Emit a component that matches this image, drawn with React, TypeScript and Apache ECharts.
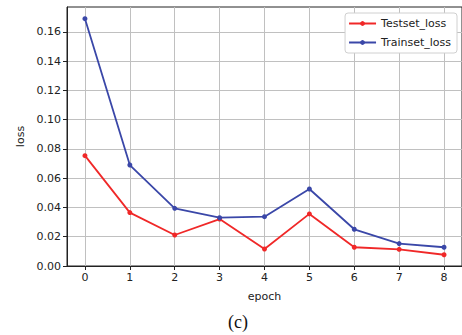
import React, { useEffect, useRef } from "react";
import * as echarts from "echarts";

const epochs = [0, 1, 2, 3, 4, 5, 6, 7, 8];
const testsetLoss = [0.0754, 0.0365, 0.0212, 0.0321, 0.0116, 0.0356, 0.0128, 0.0114, 0.0077];
const trainsetLoss = [0.169, 0.069, 0.0394, 0.033, 0.0337, 0.0526, 0.0251, 0.0153, 0.0128];
const yTicks = [0, 0.02, 0.04, 0.06, 0.08, 0.1, 0.12, 0.14, 0.16];
const xTicks = [0, 1, 2, 3, 4, 5, 6, 7, 8];

export default function App() {
  const ref = useRef<HTMLDivElement>(null);
  useEffect(() => {
    document.body.style.margin = "0";
    const chart = echarts.init(ref.current!, null, { renderer: "svg" });
    const font = "DejaVu Sans";
    chart.setOption({
      animation: false,
      backgroundColor: "#ffffff",
      textStyle: { fontFamily: font },
      grid: {
        left: 67,
        right: -2,
        top: 7,
        bottom: 69,
        show: true,
        borderColor: "#222",
        borderWidth: 1,
        backgroundColor: "transparent",
      },
      legend: {
        orient: "vertical",
        right: 5,
        top: 13,
        itemWidth: 27,
        itemHeight: 6,
        itemGap: 8,
        padding: [5, 6, 5, 3],
        backgroundColor: "#fff",
        borderColor: "#d0d0d0",
        borderWidth: 1,
        borderRadius: 3,
        textStyle: { fontFamily: font, fontSize: 11, color: "#222" },
        data: ["Testset_loss", "Trainset_loss"],
      },
      xAxis: {
        type: "value",
        min: -0.4,
        max: 8.4,
        name: "epoch",
        nameLocation: "middle",
        nameGap: 25,
        nameTextStyle: { fontFamily: font, fontSize: 11, color: "#222" },
        axisLine: { show: true, onZero: false, lineStyle: { color: "#222", width: 1 } },
        axisTick: { show: true, length: 4, customValues: xTicks, lineStyle: { color: "#222" } },
        axisLabel: {
          customValues: xTicks,
          fontFamily: font,
          fontSize: 11,
          color: "#222",
          margin: 6,
          formatter: (v: number) => String(Math.round(v)),
        },
        splitLine: { show: true, lineStyle: { color: "#c0c0c0", width: 1 } },
      },
      yAxis: {
        type: "value",
        min: 0,
        max: 0.177,
        name: "loss",
        nameLocation: "middle",
        nameGap: 40,
        nameTextStyle: { fontFamily: font, fontSize: 11, color: "#222" },
        axisLine: { show: true, onZero: false, lineStyle: { color: "#222", width: 1 } },
        axisTick: { show: true, length: 4, customValues: yTicks, lineStyle: { color: "#222" } },
        axisLabel: {
          customValues: yTicks,
          fontFamily: font,
          fontSize: 11,
          color: "#222",
          margin: 6,
          formatter: (v: number) => v.toFixed(2),
        },
        splitLine: { show: true, lineStyle: { color: "#c0c0c0", width: 1 } },
      },
      series: [
        {
          name: "Testset_loss",
          type: "line",
          data: epochs.map((e, i) => [e, testsetLoss[i]]),
          symbol: "circle",
          symbolSize: 5,
          itemStyle: { color: "#f02828" },
          lineStyle: { color: "#f02828", width: 1.8 },
        },
        {
          name: "Trainset_loss",
          type: "line",
          data: epochs.map((e, i) => [e, trainsetLoss[i]]),
          symbol: "circle",
          symbolSize: 5,
          itemStyle: { color: "#3a47a8" },
          lineStyle: { color: "#3a47a8", width: 1.8 },
        },
      ],
      graphic: [
        {
          type: "text",
          left: 228,
          top: 313,
          style: {
            text: "(c)",
            fontFamily: "Liberation Serif",
            fontSize: 18,
            fill: "#111",
          },
        },
      ],
    });
    return () => chart.dispose();
  }, []);
  return <div ref={ref} style={{ width: 462, height: 335 }} />;
}
